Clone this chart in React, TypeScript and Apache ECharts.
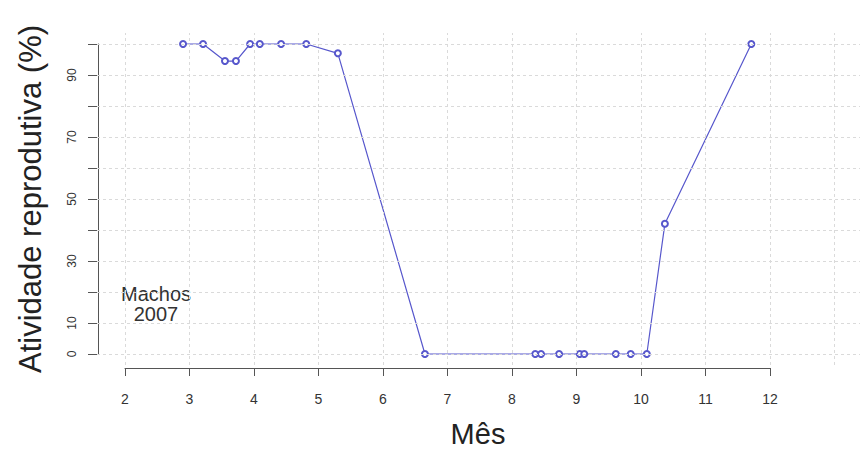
import React, { useEffect, useRef } from 'react';
import * as echarts from 'echarts';

// Data
const months = [2.9, 3.21, 3.55, 3.72, 3.94, 4.09, 4.42, 4.81, 5.3, 6.65, 8.36, 8.45, 8.73, 9.05, 9.12, 9.61, 9.84, 10.09, 10.37, 11.71];
const activity = [100, 100, 94.5, 94.5, 100, 100, 100, 100, 97, 0, 0, 0, 0, 0, 0, 0, 0, 0, 42, 100];

// Axis ticks and grid positions
const xTickMin = 2;
const xTickMax = 12;
const yTickMin = 0;
const yTickMax = 100;
const yLabelsShown = [0, 10, 30, 50, 70, 90];
const gridXs = [2, 3, 4, 5, 6, 7, 8, 9, 10, 11, 12, 13];
const gridYs = [0, 10, 20, 30, 40, 50, 60, 70, 80, 90, 100];

const annotation = 'Machos\n2007';
const xTitle = 'Mês';
const yTitle = 'Atividade reprodutiva (%)';

const FONT = '"Liberation Sans", Arial, sans-serif';
const BLUE = '#5757cc';

export default function App() {
  const ref = useRef<HTMLDivElement>(null);
  useEffect(() => {
    document.body.style.margin = '0';
    const chart = echarts.init(ref.current!, null, { renderer: 'svg' });
    chart.setOption({
      animation: false,
      backgroundColor: '#ffffff',
      grid: [
        { left: 97, right: 0, top: 33, bottom: 85 },
        { left: 125, width: 645, top: 360, height: 8 },
        { left: 98, width: 10, top: 44, height: 310 },
      ],
      xAxis: [
        { type: 'value', gridIndex: 0, min: 1.566, max: 13.395, show: false },
        {
          type: 'value', gridIndex: 1, min: xTickMin, max: xTickMax, interval: 1, position: 'bottom',
          axisLine: { show: true, lineStyle: { color: '#555', width: 1 } },
          axisTick: { show: true, length: 8, inside: false, lineStyle: { color: '#555' } },
          axisLabel: { show: true, margin: 24, fontSize: 14, fontFamily: FONT, color: '#333' },
          splitLine: { show: false },
        },
        { type: 'value', gridIndex: 2, min: 0, max: 1, show: false },
      ],
      yAxis: [
        { type: 'value', gridIndex: 0, min: -3.55, max: 103.55, show: false },
        { type: 'value', gridIndex: 1, min: 0, max: 1, show: false },
        {
          type: 'value', gridIndex: 2, min: yTickMin, max: yTickMax, interval: 10, position: 'left',
          axisLine: { show: true, lineStyle: { color: '#555', width: 1 } },
          axisTick: { show: true, length: 10, inside: false, lineStyle: { color: '#555' } },
          axisLabel: {
            show: true, rotate: 90, margin: 20, fontSize: 12, fontFamily: FONT, color: '#333',
            formatter: (v: number) => (yLabelsShown.indexOf(v) >= 0 ? String(v) : ''),
          },
          splitLine: { show: false },
        },
      ],
      series: [
        {
          type: 'line', xAxisIndex: 0, yAxisIndex: 0, data: [], silent: true, z: 1,
          markLine: {
            silent: true, symbol: ['none', 'none'], label: { show: false },
            lineStyle: { type: [3, 3], color: '#dadada', width: 1 },
            emphasis: { disabled: true },
            data: [...gridXs.map((v) => ({ xAxis: v })), ...gridYs.map((v) => ({ yAxis: v }))],
          },
        },
        {
          type: 'line', xAxisIndex: 0, yAxisIndex: 0, z: 3,
          data: months.map((m, i) => [m, activity[i]]),
          symbol: 'emptyCircle', symbolSize: 6,
          itemStyle: { color: BLUE, borderWidth: 1 },
          lineStyle: { color: BLUE, width: 1.2 },
        },
      ],
      graphic: [
        {
          type: 'text', x: 156, y: 304,
          style: { text: annotation, font: `20px ${FONT}`, fill: '#333', align: 'center', verticalAlign: 'middle', lineHeight: 20 },
        },
        {
          type: 'text', x: 478, y: 434,
          style: { text: xTitle, font: `29px ${FONT}`, fill: '#222', align: 'center', verticalAlign: 'middle' },
        },
        {
          type: 'text', x: 30, y: 199, rotation: Math.PI / 2,
          style: { text: yTitle, font: `31px ${FONT}`, fill: '#222', align: 'center', verticalAlign: 'middle' },
        },
      ],
    });
    return () => chart.dispose();
  }, []);
  return <div ref={ref} style={{ width: 860, height: 450 }} />;
}
